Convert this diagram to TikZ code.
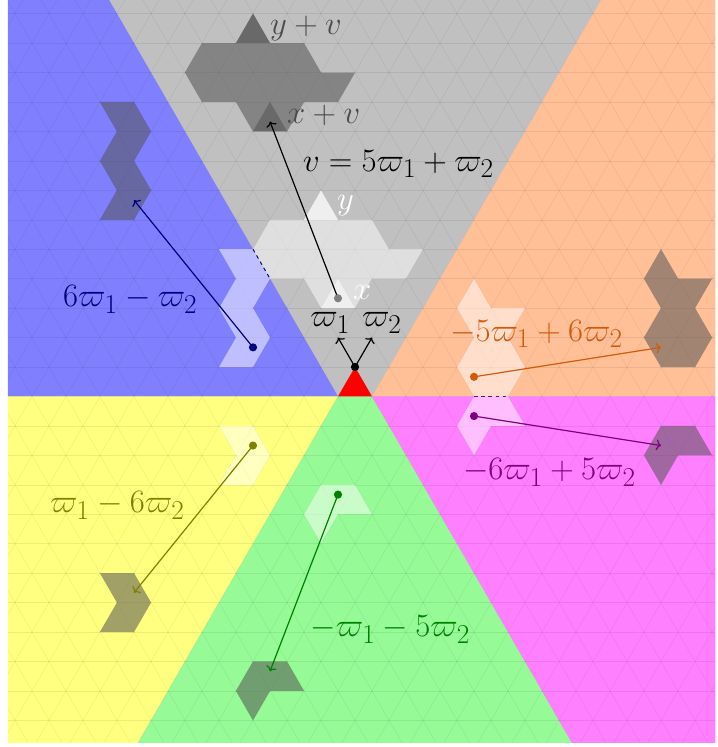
\documentclass[tikz,border=0pt]{standalone}
\usepackage{tikz}
\usetikzlibrary{arrows.meta}
\definecolor{chgray}{RGB}{192,192,192}
\definecolor{chblue}{RGB}{128,128,255}
\definecolor{chorange}{RGB}{255,192,152}
\definecolor{chyellow}{RGB}{255,255,128}
\definecolor{chgreen}{RGB}{150,250,150}
\definecolor{chmagenta}{RGB}{255,128,255}
\definecolor{dkblue}{RGB}{0,0,128}
\definecolor{dkorange}{RGB}{210,90,10}
\definecolor{dkmagenta}{RGB}{128,0,128}
\definecolor{dkyellow}{RGB}{128,128,0}
\definecolor{dkgreen}{RGB}{0,128,0}

\begin{document}
\begin{tikzpicture}[x={(-0.5cm,0.8660254cm)}, y={(0.5cm,0.8660254cm)},
  gridline/.style={black, opacity=0.07, line width=0.4pt},
  source/.style={white, opacity=0.5},
  target/.style={black!67, opacity=0.55},
  wall/.style={dashed, line width=0.8pt},
  move/.style={line width=1pt, -{To[length=4pt,width=9pt]}},
  lbl/.style={inner sep=0pt, anchor=base west, font=\Huge}]
\useasboundingbox (-10.441cm,-11.176cm) rectangle (10.676cm,10.794cm);
\begin{scope}
\clip (-10.206cm,-11.03cm) rectangle (10.6cm,10.794cm);
\fill[chgray] (0,-1) -- (40,-1) -- (40,40) -- (-1,40) -- (-1,0) -- (0,0) -- cycle;
\fill[chblue] (0,-1) -- (40,-1) -- (40,-41) -- cycle;
\fill[chorange] (-1,0) -- (-1,40) -- (-41,40) -- cycle;
\fill[chyellow] (0,-1) -- (0,-41) -- (40,-41) -- cycle;
\fill[chgreen] (0,-1) -- (0,-41) -- (-41,-41) -- (-41,0) -- (-1,0) -- cycle;
\fill[chmagenta] (-1,0) -- (-41,0) -- (-41,40) -- cycle;
\fill[red] (0,0) -- (0,-1) -- (-1,0) -- cycle;
\foreach \i in {-30,...,30} {
  \draw[gridline] (\i,-40) -- (\i,40);
  \draw[gridline] (-40,\i) -- (40,\i);
  \draw[gridline] (\i+40,-40) -- (-40,\i+40);
}
\fill[source] (4,2) -- (3,2) -- (2,3) -- (1,3) -- (0,4) -- (0,3) -- (1,2) -- (1,1) -- (2,0) -- (3,0) -- (4,-1) -- (5,-1) -- (5,0) -- (4,1) -- cycle;
\fill[source] (2,0) -- (1,1) -- (2,1) -- cycle;
\fill[source] (4,1) -- (3,2) -- (4,2) -- cycle;
\fill[target] (9,3) -- (8,3) -- (7,4) -- (6,4) -- (5,5) -- (5,4) -- (6,3) -- (6,2) -- (7,1) -- (8,1) -- (9,0) -- (10,0) -- (10,1) -- (9,2) -- cycle;
\fill[target] (7,1) -- (6,2) -- (7,2) -- cycle;
\fill[target] (9,2) -- (8,3) -- (9,3) -- cycle;
\fill[source] (6,-2) -- (5,-1) -- (4,-1) -- (4,-2) -- (3,-2) -- (3,-3) -- (4,-4) -- (4,-3) -- (5,-3) -- (5,-2) -- cycle;
\fill[target] (12,-3) -- (11,-2) -- (10,-2) -- (10,-3) -- (9,-3) -- (9,-4) -- (10,-5) -- (10,-4) -- (11,-4) -- (11,-3) -- cycle;
\fill[source] (-2,5) -- (-3,5) -- (-4,6) -- (-4,5) -- (-5,5) -- (-5,4) -- (-4,3) -- (-3,3) -- (-3,4) -- (-2,4) -- cycle;
\fill[target] (-7,11) -- (-8,11) -- (-9,12) -- (-9,11) -- (-10,11) -- (-10,10) -- (-9,9) -- (-8,9) -- (-8,10) -- (-7,10) -- cycle;
\fill[source] (-4,3) -- (-5,4) -- (-6,4) -- (-5,3) -- (-5,2) -- (-4,2) -- cycle;
\fill[target] (-10,8) -- (-11,9) -- (-12,9) -- (-11,8) -- (-11,7) -- (-10,7) -- cycle;
\fill[source] (3,-5) -- (2,-4) -- (1,-4) -- (1,-5) -- (2,-6) -- (2,-5) -- cycle;
\fill[target] (4,-11) -- (3,-10) -- (2,-10) -- (2,-11) -- (3,-12) -- (3,-11) -- cycle;
\fill[source] (-1,-3) -- (-2,-2) -- (-3,-2) -- (-2,-3) -- (-2,-4) -- (-1,-4) -- cycle;
\fill[target] (-2,-8) -- (-3,-7) -- (-4,-7) -- (-3,-8) -- (-3,-9) -- (-2,-9) -- cycle;
\draw[wall, dkblue] (5,-1) -- (4,-1);
\draw[wall, dkmagenta] (-4,3) -- (-5,4);
\coordinate (zero) at (0,0);
\coordinate (w1) at (1,0);
\coordinate (w2) at (0,1);
\coordinate (x0) at (5/3,2/3);
\coordinate (xv) at (20/3,5/3);
\coordinate (b0) at (10/3,-8/3);
\coordinate (b1) at (28/3,-11/3);
\coordinate (o0) at (-11/3,10/3);
\coordinate (o1) at (-26/3,28/3);
\coordinate (m0) at (-13/3,8/3);
\coordinate (m1) at (-31/3,23/3);
\coordinate (y0) at (5/3,-13/3);
\coordinate (y1) at (8/3,-31/3);
\coordinate (g0) at (-5/3,-8/3);
\coordinate (g1) at (-8/3,-23/3);
\draw[move] (x0) -- (xv);
\fill[black!50] (x0) circle (0.12cm);
\draw[move] (zero) -- (w1);
\draw[move] (zero) -- (w2);
\fill[black] (zero) circle (0.12cm);
\draw[move, dkblue] (b0) -- (b1);
\fill[dkblue] (b0) circle (0.12cm);
\draw[move, dkorange] (o0) -- (o1);
\fill[dkorange] (o0) circle (0.12cm);
\draw[move, dkmagenta] (m0) -- (m1);
\fill[dkmagenta] (m0) circle (0.12cm);
\draw[move, dkyellow] (y0) -- (y1);
\fill[dkyellow] (y0) circle (0.12cm);
\draw[move, dkgreen] (g0) -- (g1);
\fill[dkgreen] (g0) circle (0.12cm);
\end{scope}
\node[lbl, black!70] (yvlab) at (-2.5cm,9.79cm) {\scalebox{1.1}{$y+v$}};
\node[lbl, black!70] (xvlab) at (-2.0cm,7.17cm) {\scalebox{1.1}{$x+v$}};
\node[lbl] (vlab) at (-1.53cm,5.76cm) {\scalebox{1.1}{$v=5\varpi_1+\varpi_2$}};
\node[lbl, white] (ylab) at (-0.53cm,4.62cm) {\scalebox{1.1}{$y$}};
\node[lbl, white] (xlab) at (-0.06cm,2.0cm) {\scalebox{1.1}{$x$}};
\node[lbl] (w1lab) at (-1.32cm,1.18cm) {\scalebox{1.1}{$\varpi_1$}};
\node[lbl] (w2lab) at (0.2cm,1.18cm) {\scalebox{1.1}{$\varpi_2$}};
\node[lbl, dkblue] (blab) at (-8.59cm,1.77cm) {\scalebox{1.1}{$6\varpi_1-\varpi_2$}};
\node[lbl, dkorange] (olab) at (2.79cm,0.76cm) {\scalebox{1.1}{$-5\varpi_1+6\varpi_2$}};
\node[lbl, dkmagenta] (mlab) at (3.17cm,-3.32cm) {\scalebox{1.1}{$-6\varpi_1+5\varpi_2$}};
\node[lbl, dkyellow] (yellab) at (-8.97cm,-4.29cm) {\scalebox{1.1}{$\varpi_1-6\varpi_2$}};
\node[lbl, dkgreen] (glab) at (-1.32cm,-7.94cm) {\scalebox{1.1}{$-\varpi_1-5\varpi_2$}};
\end{tikzpicture}
\end{document}
